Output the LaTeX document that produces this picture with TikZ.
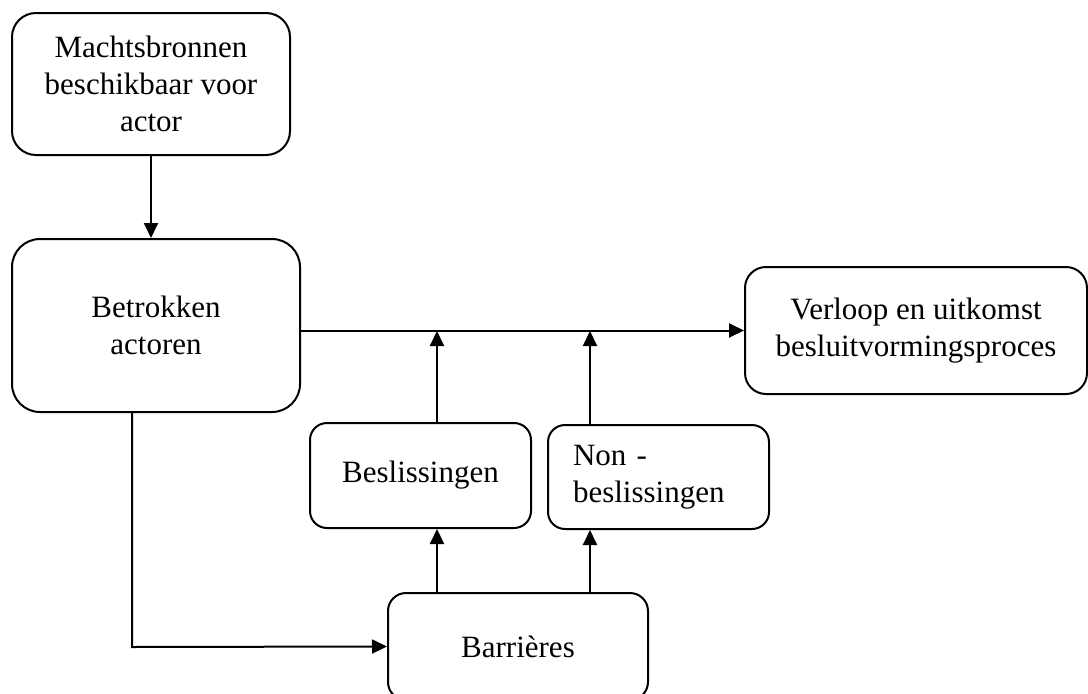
\documentclass[tikz,border=0pt]{standalone}
\usepackage{fontspec}
\setmainfont{Liberation Serif}
\usetikzlibrary{arrows.meta}

\begin{document}
\begin{tikzpicture}[x=1pt, y=-1pt,
		box/.style={draw, line width=2pt, rounded corners=17pt, align=center, inner sep=0pt,
			font=\fontsize{31}{37}\selectfont},
		arr/.style={line width=2pt, -{Triangle[length=15pt, width=14pt]}}]
				
				\useasboundingbox (0,0) rectangle (1088,694);
				\node[box, rounded corners=24pt, minimum width=278pt, minimum height=142pt] (mach) at (151,84) {Machtsbronnen\\beschikbaar voor\\actor};
				\node[box, rounded corners=28pt, minimum width=288pt, minimum height=173pt] (betr) at (156,325.5) {Betrokken\\actoren};
				\node[box, rounded corners=21pt, minimum width=342pt, minimum height=127pt] (verl) at (916,330.5) {Verloop en uitkomst\\besluitvormingsproces};
				\node[box, minimum width=221pt, minimum height=105pt] (besl) at (420.5,475.5) {Beslissingen};
				\node[box, align=left, text width=171pt, inner xsep=25pt, minimum height=104pt] (non) at (658.5,477) {Non -\\beslissingen};
				\node[box, rounded corners=18pt, minimum width=260pt, minimum height=107pt] (barr) at (518,646.5) {Barrières};
				
				\coordinate (j1) at (437,331);
				\coordinate (j2) at (590,331);
				\coordinate (k) at (132,647);
				
				\draw[arr] (mach.south) -- (mach.south |- betr.north);
				\draw[arr] (betr.east |- verl.west) -- (verl.west);
				\draw[arr] (j1 |- besl.north) -- (j1);
				\draw[arr] (j2 |- non.north) -- (j2);
				\draw[arr] (j1 |- barr.north) -- (j1 |- besl.south);
				\draw[arr] (j2 |- barr.north) -- (j2 |- non.south);
				\draw[arr] (k |- betr.south) -- (k) -- (barr.west);
			\end{tikzpicture}
\end{document}
